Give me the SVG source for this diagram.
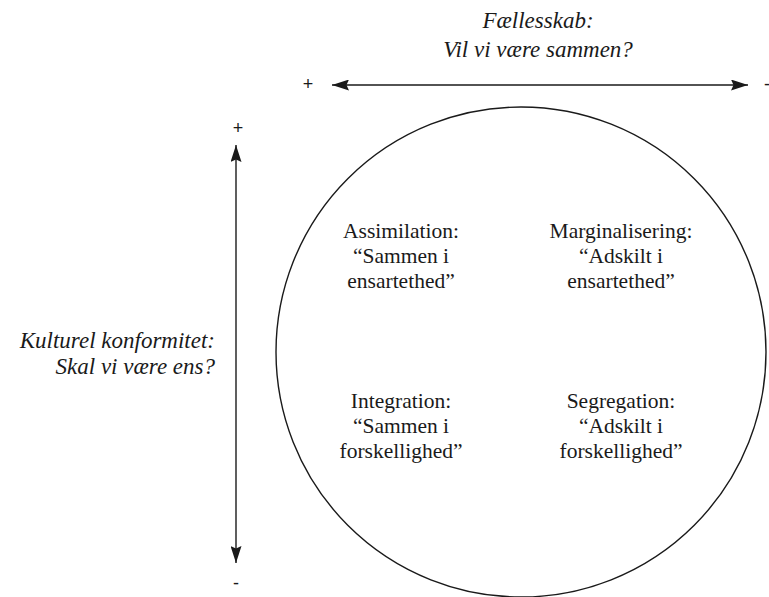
<svg xmlns="http://www.w3.org/2000/svg" width="769" height="597" viewBox="0 0 769 597">
<defs>
<marker id="ah" viewBox="0 0 17 11" refX="17" refY="5.5" markerWidth="17" markerHeight="11" markerUnits="userSpaceOnUse" orient="auto-start-reverse">
<path d="M0,0 L17,5.5 L0,11 L2.5,5.5 Z" fill="#1a1a1a"/>
</marker>
<style>
.t{font-family:"Liberation Serif","DejaVu Serif",serif;font-size:21.5px;fill:#1a1a1a;text-anchor:middle}
.i{font-style:italic;font-size:23px}
.s{font-family:"Liberation Sans","DejaVu Sans",sans-serif;font-size:18px;fill:#1a1a1a;text-anchor:middle}
.ax{stroke:#1a1a1a;stroke-width:1.4;fill:none}
</style>
</defs>
<rect width="769" height="597" fill="#fff"/>
<g id="circle"><circle cx="521" cy="352" r="245" fill="none" stroke="#1a1a1a" stroke-width="1.4"/></g>
<g id="connectors">
<line class="ax" x1="332" y1="85" x2="748" y2="85" marker-start="url(#ah)" marker-end="url(#ah)"/>
<line class="ax" x1="236" y1="145" x2="236" y2="563" marker-start="url(#ah)" marker-end="url(#ah)"/>
</g>
<g id="axis-h">
<text class="t i" x="538" y="28">Fællesskab:</text>
<text class="t i" x="538" y="57">Vil vi være sammen?</text>
<text class="s" x="308" y="90">+</text>
<text class="s" x="764" y="90" style="text-anchor:start">-</text>
</g>
<g id="axis-v">
<text class="t i" x="215" y="348" style="text-anchor:end">Kulturel konformitet:</text>
<text class="t i" x="215" y="374" style="text-anchor:end">Skal vi være ens?</text>
<text class="s" x="238" y="134">+</text>
<text class="s" x="236" y="589">-</text>
</g>
<g id="assimilation">
<text class="t" x="401" y="238">Assimilation:</text>
<text class="t" x="401" y="263">“Sammen i</text>
<text class="t" x="401" y="288">ensartethed”</text>
</g>
<g id="marginalisering">
<text class="t" x="621" y="238">Marginalisering:</text>
<text class="t" x="621" y="263">“Adskilt i</text>
<text class="t" x="621" y="288">ensartethed”</text>
</g>
<g id="integration">
<text class="t" x="401" y="408">Integration:</text>
<text class="t" x="401" y="433">“Sammen i</text>
<text class="t" x="401" y="458">forskellighed”</text>
</g>
<g id="segregation">
<text class="t" x="621" y="408">Segregation:</text>
<text class="t" x="621" y="433">“Adskilt i</text>
<text class="t" x="621" y="458">forskellighed”</text>
</g>
</svg>
